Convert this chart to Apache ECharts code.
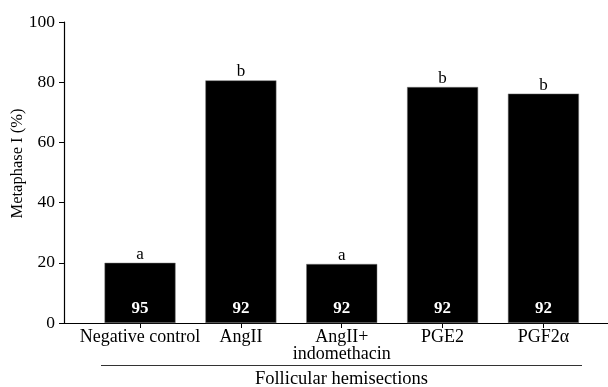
<!DOCTYPE html>
<html>
<head>
<meta charset="utf-8">
<script src="https://cdn.jsdelivr.net/npm/echarts@6/dist/echarts.min.js"></script>
<style>
html,body{margin:0;padding:0;background:#fff;}
#chart{width:608px;height:387px;}
</style>
</head>
<body>
<div id="chart"></div>
<script>
const categories = ['Negative control', 'AngII', 'AngII+\nindomethacin', 'PGE2', 'PGF2\u03b1'];
const metaphaseI = [20.0, 80.6, 19.6, 78.4, 76.2];
const significance = ['a', 'b', 'a', 'b', 'b'];
const nCounts = [95, 92, 92, 92, 92];
const yTicks = [0, 20, 40, 60, 80, 100];
const groupLabel = 'Follicular hemisections';
const yAxisTitle = 'Metaphase I (%)';

const FONT = "'Liberation Serif', 'Times New Roman', serif";
const positions = categories.map((c, i) => i + 1);

const chart = echarts.init(document.getElementById('chart'));
chart.setOption({
  animation: false,
  backgroundColor: '#fff',
  grid: { left: 64, right: 0, top: 22, bottom: 64, containLabel: false, outerBoundsMode: 'none' },
  xAxis: {
    type: 'value',
    min: 0.246,
    max: 5.64,
    splitLine: { show: false },
    axisLine: { show: true, lineStyle: { color: '#000', width: 1.2 } },
    axisTick: { show: true, customValues: positions, length: 5, lineStyle: { color: '#000' } },
    axisLabel: {
      customValues: positions,
      formatter: v => categories[Math.round(v) - 1] || '',
      color: '#000', fontFamily: FONT, fontSize: 18, lineHeight: 17, margin: 6
    }
  },
  yAxis: {
    type: 'value',
    min: 0, max: 100, interval: 20,
    name: yAxisTitle,
    nameLocation: 'middle',
    nameGap: 38,
    nameMoveOverlap: false,
    nameTextStyle: { color: '#000', fontFamily: FONT, fontSize: 16.5, padding: [0, 0, 0, 18] },
    splitLine: { show: false },
    axisLine: { show: true, lineStyle: { color: '#000', width: 1.2 } },
    axisTick: { show: true, length: 5, lineStyle: { color: '#000' } },
    axisLabel: {
      customValues: yTicks,
      color: '#000', fontFamily: FONT, fontSize: 17.5, margin: 9
    }
  },
  series: [
    {
      type: 'bar',
      barWidth: 71,
      data: positions.map((p, i) => [p, metaphaseI[i]]),
      itemStyle: { color: '#000', borderColor: '#777', borderWidth: 0.5 },
      label: {
        show: true, position: 'top', distance: 0,
        formatter: p => significance[p.dataIndex],
        color: '#000', fontFamily: FONT, fontSize: 17
      }
    },
    {
      type: 'bar',
      barWidth: 71,
      barGap: '-100%',
      data: positions.map((p, i) => [p, metaphaseI[i]]),
      itemStyle: { color: 'rgba(0,0,0,0)' },
      label: {
        show: true, position: 'insideBottom', distance: 6,
        formatter: p => String(nCounts[p.dataIndex]),
        color: '#fff', fontFamily: FONT, fontSize: 17, fontWeight: 'bold'
      },
      z: 3
    }
  ],
  graphic: [
    {
      type: 'line',
      shape: { x1: 101, y1: 365.5, x2: 582, y2: 365.5 },
      style: { stroke: '#333', lineWidth: 1.2 }
    },
    {
      type: 'text',
      x: 341.5, y: 379,
      style: {
        text: groupLabel, fill: '#000', font: "18.5px 'Liberation Serif', 'Times New Roman', serif",
        align: 'center', verticalAlign: 'middle'
      }
    }
  ]
});
</script>
</body>
</html>
